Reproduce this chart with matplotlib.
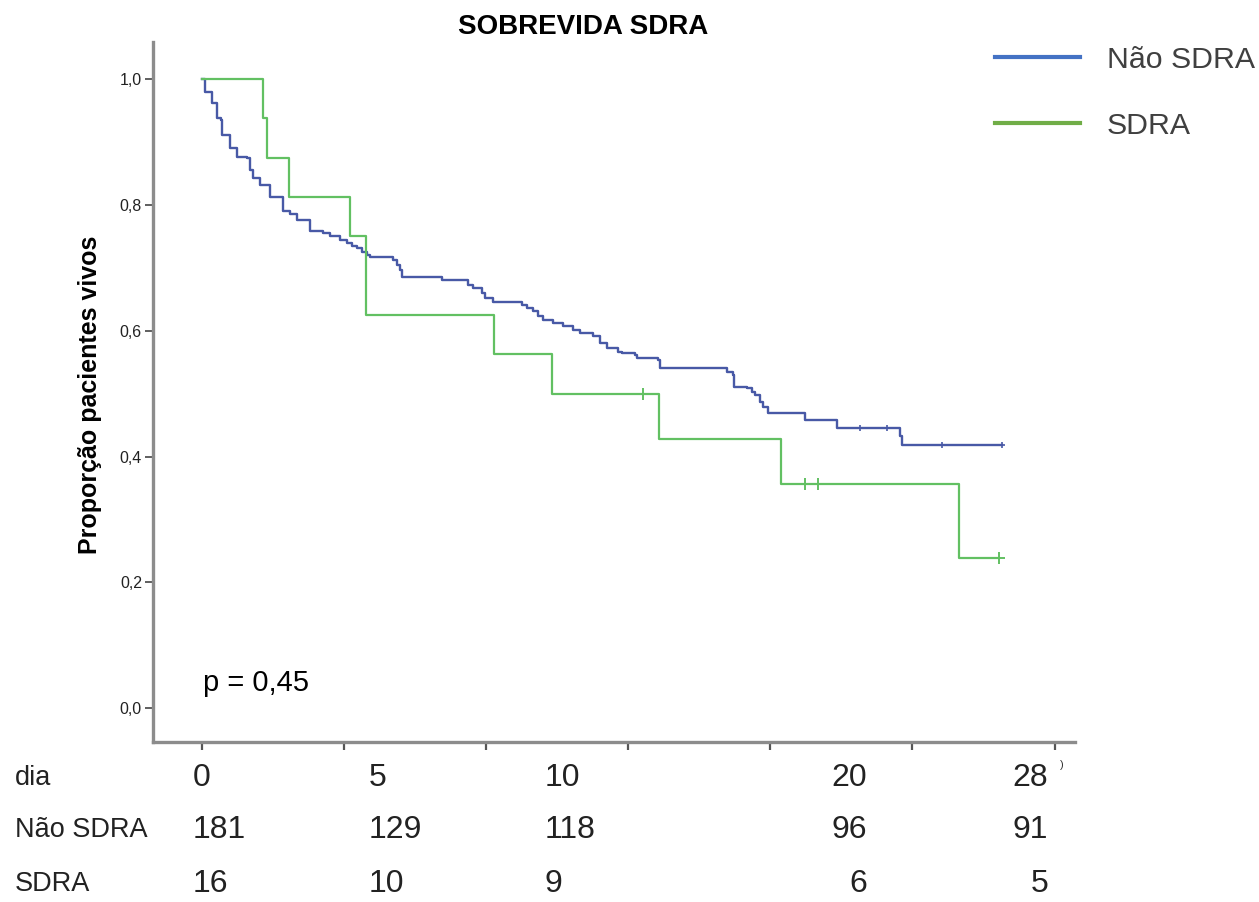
import matplotlib
matplotlib.use("Agg")
import matplotlib.pyplot as plt
from matplotlib.lines import Line2D

plt.rcParams["font.family"] = ["Liberation Sans", "DejaVu Sans"]

# Kaplan-Meier steps (time in days, proportion alive)
nao_sdra_t = [0.00, 0.12, 0.35, 0.53, 0.67, 0.70, 1.00, 1.23, 1.58, 1.70, 1.80, 2.05,
              2.40, 2.86, 3.11, 3.34, 3.81, 4.27, 4.51, 4.87, 5.10, 5.28, 5.45, 5.63,
              5.80, 5.92, 6.74, 6.86, 6.98, 7.04, 8.44, 9.38, 9.55, 9.85, 9.97, 10.26,
              11.26, 11.43, 11.66, 11.84, 12.02, 12.37, 12.72, 13.07, 13.31, 13.77,
              14.01, 14.25, 14.65, 14.77, 15.24, 15.30, 16.05, 16.12, 18.47, 18.69,
              18.71, 19.17, 19.35, 19.46, 19.64, 19.74, 19.92, 21.22, 22.34, 24.56,
              24.62, 28.14]
nao_sdra_s = [1.000, 0.980, 0.962, 0.938, 0.935, 0.911, 0.891, 0.877, 0.875, 0.856,
              0.843, 0.832, 0.813, 0.790, 0.785, 0.776, 0.758, 0.756, 0.750, 0.745,
              0.739, 0.734, 0.731, 0.726, 0.721, 0.718, 0.713, 0.705, 0.697, 0.686,
              0.681, 0.673, 0.668, 0.660, 0.652, 0.646, 0.641, 0.636, 0.631, 0.623,
              0.617, 0.612, 0.607, 0.601, 0.596, 0.591, 0.580, 0.573, 0.567, 0.564,
              0.562, 0.556, 0.554, 0.541, 0.535, 0.530, 0.511, 0.509, 0.503, 0.498,
              0.487, 0.479, 0.469, 0.458, 0.445, 0.432, 0.419, 0.419]
nao_sdra_cens_t = [23.16, 24.10, 26.04, 28.14]
nao_sdra_cens_s = [0.445, 0.445, 0.419, 0.419]

sdra_t = [0.0, 2.15, 2.29, 3.08, 5.22, 5.78, 10.30, 12.31, 16.10, 20.38, 26.65, 28.06]
sdra_s = [1.0, 0.9375, 0.875, 0.8125, 0.75, 0.625, 0.5625, 0.5, 0.4286, 0.3571, 0.2381, 0.2381]
sdra_cens_t = [15.53, 21.24, 21.69, 28.06]
sdra_cens_s = [0.5, 0.3571, 0.3571, 0.2381]

# numbers at risk table
table_days = ["0", "5", "10", "20", "28"]
risk_nao_sdra = ["181", "129", "118", "96", "91"]
risk_sdra = ["16", "10", "9", "6", "5"]
row_labels = ["dia", "Não SDRA", "SDRA"]

blue = "#4859a6"
green = "#62c062"
W, H = 1259, 902

fig = plt.figure(figsize=(W / 100, H / 100), dpi=100)
ax = fig.add_axes([153 / W, 1 - 742 / H, 922 / W, 700 / H])

ax.step(nao_sdra_t, nao_sdra_s, where="post", color=blue, lw=1.7)
ax.plot(nao_sdra_cens_t, nao_sdra_cens_s, ls="none", marker="+", ms=5, mew=1.2, color=blue)
ax.step(sdra_t, sdra_s, where="post", color=green, lw=1.6)
ax.plot(sdra_cens_t, sdra_cens_s, ls="none", marker="+", ms=8, mew=1.4, color=green)

ax.set_xlim(-1.71, 30.72)
ax.set_ylim(-0.0536, 1.059)
ax.set_xticks(range(0, 31, 5))
ax.set_xticklabels([])
ax.set_yticks([0, 0.2, 0.4, 0.6, 0.8, 1.0])
ax.set_yticklabels(["0,0", "0,2", "0,4", "0,6", "0,8", "1,0"])
ax.tick_params(axis="y", length=6, width=1.2, color="#444444", labelsize=11.5,
               labelcolor="#222222", pad=2)
ax.tick_params(axis="x", length=6, width=1.6, color="#555555")

for side in ["top", "right"]:
    ax.spines[side].set_visible(False)
for side in ["left", "bottom"]:
    ax.spines[side].set_color("#8c8c8c")
    ax.spines[side].set_linewidth(2.4)

ax.set_ylabel("Proporção pacientes vivos", fontsize=18, fontweight="bold")
ax.yaxis.set_label_coords(-0.0555, 0.496)

ax.text(0.05, 0.04, "p = 0,45", fontsize=21, va="center", ha="left")

fig.text(583 / W, 1 - 27 / H, "SOBREVIDA SDRA", fontsize=20, fontweight="bold",
         ha="center", va="center")

handles = [Line2D([], [], color="#4472c4", lw=3),
           Line2D([], [], color="#70ad47", lw=3)]
fig.legend(handles, ["Não SDRA", "SDRA"], loc="upper left",
           bbox_to_anchor=(995 / W, 1 - 46 / H), frameon=False, fontsize=21.8,
           handlelength=2.8, handletextpad=0.9, labelspacing=1.25,
           borderpad=0, borderaxespad=0, labelcolor="#404040")

# numbers at risk below the axis
col_x = [193, 369, 545, 867, 1048]
col_ha = ["left", "left", "left", "right", "right"]
row_y = [778, 830, 884]
for lab, y in zip(row_labels, row_y):
    fig.text(15 / W, 1 - y / H, lab, fontsize=19.5, va="center",
             ha="left", color="#222222")
for row, y in zip([table_days, risk_nao_sdra, risk_sdra], row_y):
    for val, x, ha in zip(row, col_x, col_ha):
        fig.text(x / W, 1 - y / H, val, fontsize=23, va="center", ha=ha,
                 color="#222222")
fig.text(1062 / W, 1 - 765 / H, ")", fontsize=8, va="center", ha="center",
         color="#333333")

fig.savefig("out.png", dpi=100)
